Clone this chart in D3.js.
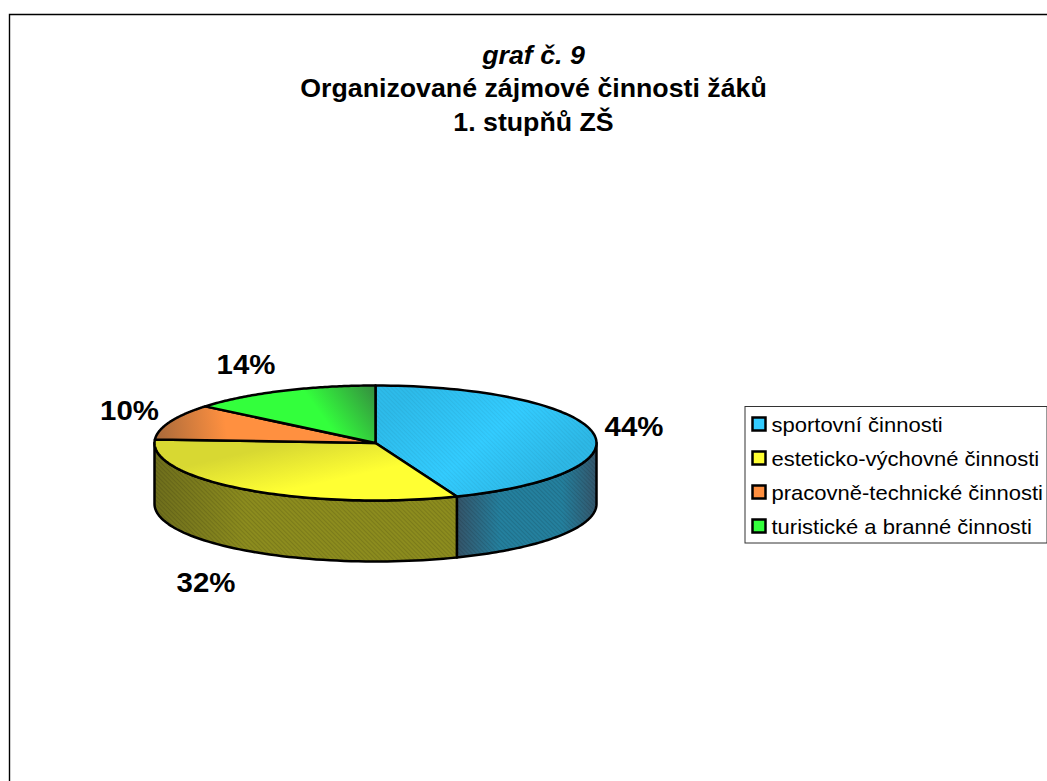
<!DOCTYPE html>
<html><head><meta charset="utf-8">
<script src="https://cdn.jsdelivr.net/npm/d3@7"></script>
<style>html,body{margin:0;padding:0;background:#fff}svg{display:block}text{font-family:"Liberation Sans",Arial,sans-serif;fill:#000}</style>
</head><body><svg id="c" width="1047" height="781"></svg>
<script>
const categories=["sportovní činnosti","esteticko-výchovné činnosti","pracovně-technické činnosti","turistické a branné činnosti"];
const values=[44,32,10,14];
const labels=["44%","32%","10%","14%"];
const colors=["#33CCFF","#FFFF33","#FF9040","#33FF3C"];
const darkEdge=["#2DBBEA","#D8D832","#A8693A","#35913F"];
const sideColors=["#24809E","#8C8C1E"];
const sideEdge=["#34556A","#6E6E1C"];
const titleLines=["graf č. 9","Organizované zájmové činnosti žáků","1. stupňů ZŠ"];

const W=1047,H=781,cx=375.5,cy=443,rx=221,ry=57.5,depth=61;
const svg=d3.select("#c");
const defs=svg.append("defs");
svg.append("rect").attr("width",W).attr("height",H).attr("fill","#fff");
svg.append("path").attr("d",`M9.5,${H}V14.5H${W}`).attr("fill","none").attr("stroke","#000").attr("stroke-width",1.4);

function wideText(parent,x,y,size,sx,anchor,s){
  return parent.append("text").attr("transform",`translate(${x},${y}) scale(${sx},1)`)
    .attr("text-anchor",anchor).attr("font-size",size).text(s);
}
const t=svg.append("g");
const titleY=[64,97,130.5];
titleLines.forEach((s,i)=>wideText(t,533.5,titleY[i],25,1.07,"middle",s).attr("font-weight","bold").attr("font-style",i==0?"italic":"normal"));

const pie=d3.pie().sort(null).value(d=>d)(values);
const px=a=>cx+rx*Math.sin(a),py=a=>cy-ry*Math.cos(a);
function hatch(id,col){
  const p=defs.append("pattern").attr("id",id).attr("width",3).attr("height",3).attr("patternUnits","userSpaceOnUse").attr("patternTransform","rotate(45)");
  p.append("rect").attr("width",3).attr("height",1).attr("fill",col);
}
hatch("hDark","rgba(0,0,0,0.12)");hatch("hSoft","rgba(0,0,0,0.05)");
const tops=[[420,385,520,500],[370,425,380,470],[155,430,225,420],[372,386,325,420]];
tops.forEach((g,i)=>{
  const lg=defs.append("linearGradient").attr("id","top"+i).attr("gradientUnits","userSpaceOnUse")
   .attr("x1",g[0]).attr("y1",g[1]).attr("x2",g[2]).attr("y2",g[3]);
  const stops=i==0?[[0,darkEdge[0]],[.55,colors[0]],[1,"#2DB8E6"]]:[[0,darkEdge[i]],[1,colors[i]]];
  stops.forEach(s=>lg.append("stop").attr("offset",s[0]).attr("stop-color",s[1]));
});
[[458,597],[154,458]].forEach((g,i)=>{
  const lg=defs.append("linearGradient").attr("id","side"+i).attr("gradientUnits","userSpaceOnUse")
   .attr("x1",g[0]).attr("y1",0).attr("x2",g[1]).attr("y2",0);
  const st=i==0?[[0,sideEdge[0]],[.3,sideColors[0]],[.75,sideColors[0]],[1,sideEdge[0]]]:[[0,sideEdge[1]],[.3,sideColors[1]],[1,sideColors[1]]];
  st.forEach(s=>lg.append("stop").attr("offset",s[0]).attr("stop-color",s[1]));
});
const sideRanges=[[Math.PI/2,pie[0].endAngle],[pie[1].startAngle,3*Math.PI/2]];
const lineGen=d3.line();
sideRanges.forEach((r,i)=>{
  const as=d3.range(0,61).map(k=>r[0]+(r[1]-r[0])*k/60);
  const pts=as.map(a=>[px(a),py(a)]).concat(as.slice().reverse().map(a=>[px(a),py(a)+depth]));
  const d=lineGen(pts)+"Z";
  svg.append("path").attr("d",d).attr("fill",`url(#side${i})`);
  svg.append("path").attr("d",d).attr("fill","url(#hDark)").attr("stroke","#000").attr("stroke-width",2.5).attr("stroke-linejoin","round");
});
pie.forEach((p,i)=>{
  const as=d3.range(0,81).map(k=>p.startAngle+(p.endAngle-p.startAngle)*k/80);
  const d=lineGen([[cx,cy]].concat(as.map(a=>[px(a),py(a)])))+"Z";
  svg.append("path").attr("d",d).attr("fill",`url(#top${i})`);
  svg.append("path").attr("d",d).attr("fill",i==0?"url(#hSoft)":"none").attr("stroke","#000").attr("stroke-width",2.5).attr("stroke-linejoin","round");
});
const lp=[[634,436],[206,592],[129.5,420],[246,374]];
labels.forEach((s,i)=>wideText(svg,lp[i][0],lp[i][1],27,1.09,"middle",s).attr("font-weight","bold"));
const lg=svg.append("g");
lg.append("rect").attr("x",745).attr("y",406.5).attr("width",302).attr("height",136.5).attr("fill","#fff").attr("stroke","#333").attr("stroke-width",1);
const rowY=d3.scalePoint().domain(categories).range([424,526]);
categories.forEach((c,i)=>{
  lg.append("rect").attr("x",752.5).attr("y",rowY(c)-6.5).attr("width",13).attr("height",13).attr("fill",colors[i]).attr("stroke","#000").attr("stroke-width",2.5);
  wideText(lg,771.5,rowY(c)+8,20,1.1,"start",c);
});
</script></body></html>
